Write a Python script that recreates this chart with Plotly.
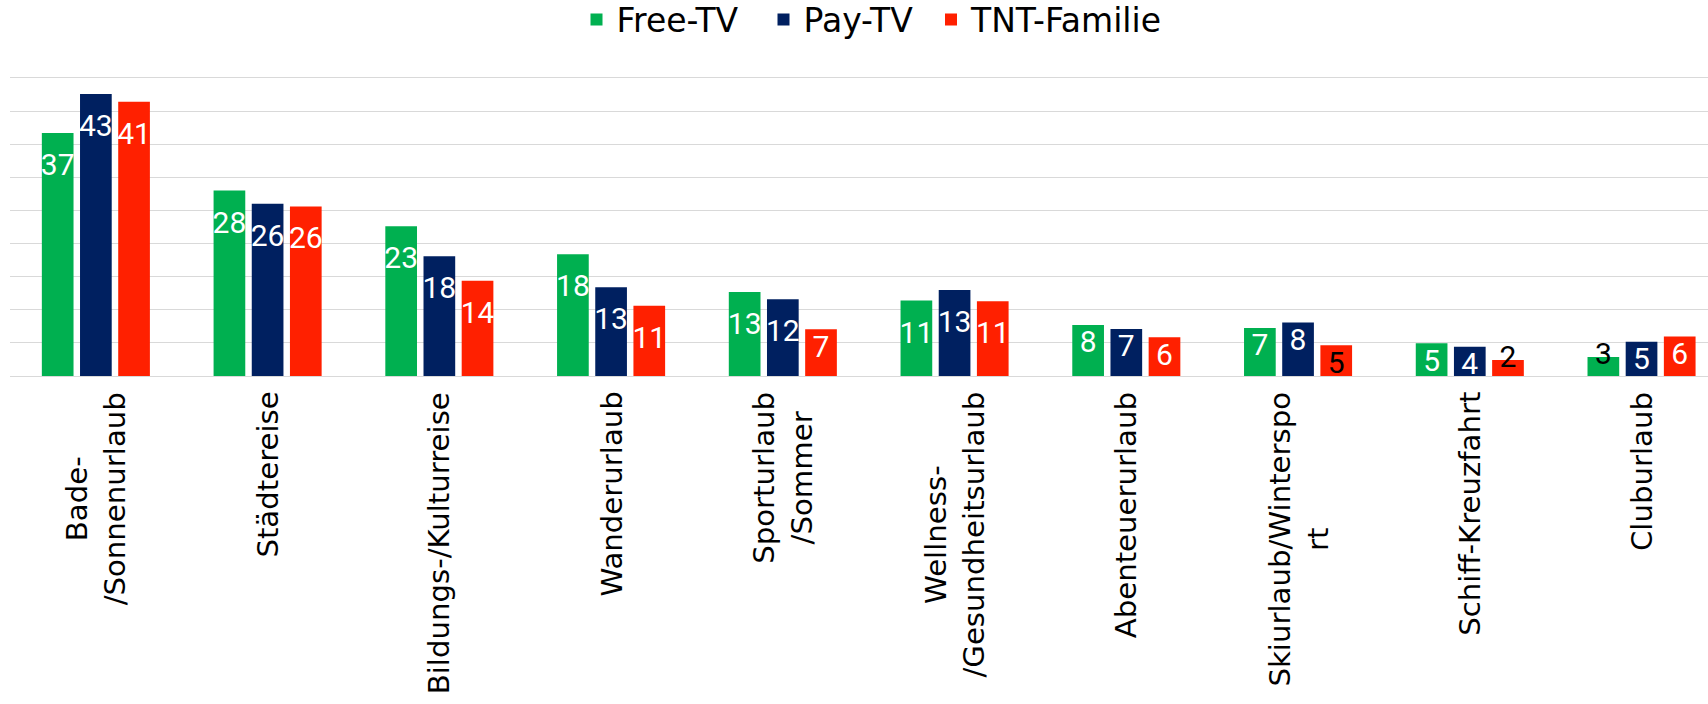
import plotly.graph_objects as go

# ---- data -------------------------------------------------------------
categories = [
    "Bade-/Sonnenurlaub", "Städtereise", "Bildungs-/Kulturreise", "Wanderurlaub",
    "Sporturlaub/Sommer", "Wellness-/Gesundheitsurlaub", "Abenteuerurlaub",
    "Skiurlaub/Wintersport", "Schiff-Kreuzfahrt", "Cluburlaub",
]
tick_labels = [
    "Bade-<br>/Sonnenurlaub", "Städtereise", "Bildungs-/Kulturreise", "Wanderurlaub",
    "Sporturlaub<br>/Sommer", "Wellness-<br>/Gesundheitsurlaub", "Abenteuerurlaub",
    "Skiurlaub/Winterspo<br>rt", "Schiff-Kreuzfahrt", "Cluburlaub",
]
free_tv = [36.7, 28.0, 22.6, 18.4, 12.7, 11.4, 7.7, 7.26, 4.94, 2.87]
pay_tv = [42.6, 26.0, 18.1, 13.4, 11.6, 13.0, 7.1, 8.06, 4.43, 5.19]
tnt_familie = [41.4, 25.6, 14.4, 10.6, 7.05, 11.3, 5.85, 4.64, 2.42, 5.95]
series_names = ["Free-TV", "Pay-TV", "TNT-Familie"]

# ---- styles -----------------------------------------------------------
series_colors = ["#00B050", "#002060", "#FF2000"]
label_colors = [
    ["white"] * 9 + ["black"],
    ["white"] * 10,
    ["white"] * 7 + ["black", "black", "white"],
]
FONT = "DejaVu Sans"
LABEL_FONT = "Roboto"
legend_x = [576.5 / 1708, 763.5 / 1708, 931 / 1708]


def label_props(v):
    txt = f"{int(round(v))}"
    if v >= 9:
        return "<br><span style='font-size:30px'>" + txt + "</span>", 20.5, "bottom center"
    if v >= 3.5:
        return "<br><span style='font-size:30px'>" + txt + "</span>", 13.3, "bottom center"
    return txt, 30, "middle center"


fig = go.Figure()
all_series = [free_tv, pay_tv, tnt_familie]
legend_ids = ["legend", "legend2", "legend3"]

for name, vals, color, lg in zip(series_names, all_series, series_colors, legend_ids):
    fig.add_bar(
        x=categories, y=vals, name=name, marker_color=color,
        marker_line_width=0, legend=lg, hoverinfo="x+y+name",
    )

for vals, cols in zip(all_series, label_colors):
    props = [label_props(v) for v in vals]
    fig.add_scatter(
        x=categories, y=vals, mode="text",
        text=[p[0] for p in props],
        textposition=[p[2] for p in props],
        textfont=dict(family=LABEL_FONT, size=[p[1] for p in props], color=cols),
        showlegend=False, hoverinfo="skip", cliponaxis=False,
    )

legend_common = dict(
    orientation="h", font=dict(family=FONT, size=33, color="black"),
    bgcolor="rgba(0,0,0,0)", xref="container", yref="container",
    xanchor="left", yanchor="middle", y=1 - 19.5 / 704,
)

annotations = [
    dict(
        x=cat, y=0, xref="x", yref="paper", text=lab, showarrow=False,
        textangle=-90, xanchor="center", yanchor="top", yshift=-14,
        align="center", font=dict(family=FONT, size=29.2, color="black"),
    )
    for cat, lab in zip(categories, tick_labels)
]

fig.update_layout(
    width=1708, height=704,
    paper_bgcolor="white", plot_bgcolor="white",
    margin=dict(l=10, r=0, t=76.3, b=328, pad=0),
    barmode="group", bargap=0.333, bargroupgap=0.17,
    scattermode="group", scattergap=0.333,
    legend=dict(legend_common, x=legend_x[0]),
    legend2=dict(legend_common, x=legend_x[1]),
    legend3=dict(legend_common, x=legend_x[2]),
    annotations=annotations,
    xaxis=dict(
        type="category", range=[-0.5, 9.387], showticklabels=False, ticks="",
        showgrid=False, showline=True, linecolor="#D9D9D9", linewidth=1,
        zeroline=False,
    ),
    yaxis=dict(
        range=[0, 45.3], dtick=5, tick0=0, showticklabels=False, ticks="",
        showgrid=True, gridcolor="#D9D9D9", gridwidth=1, zeroline=False,
        showline=False,
    ),
)

fig.write_html(
    "out.html",
    config={"displayModeBar": False},
    post_script="document.body.style.margin='0';document.body.style.padding='0';",
)
